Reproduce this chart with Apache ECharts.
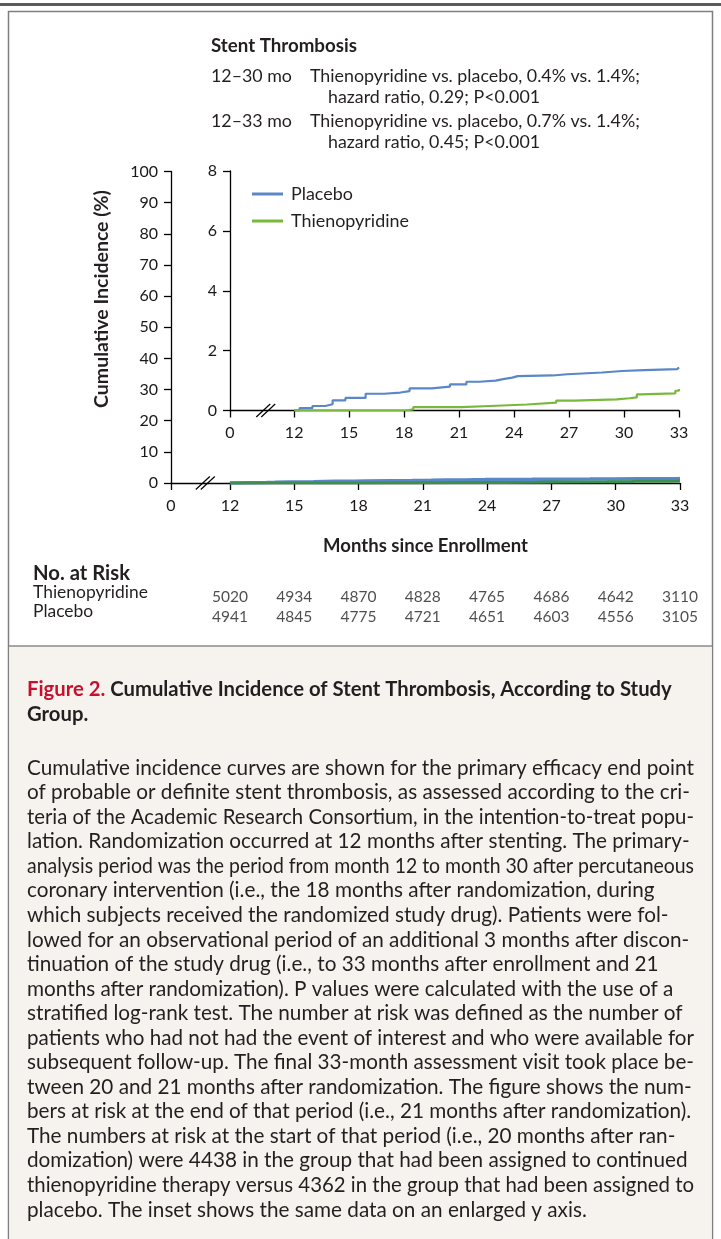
<!DOCTYPE html>
<html><head><meta charset="utf-8">
<script src="https://cdn.jsdelivr.net/npm/echarts@6/dist/echarts.min.js"></script>
<style>html,body{margin:0;padding:0;background:#fff}#c{width:721px;height:1239px}</style>
</head><body><div id="c"></div>
<script>
// ---- data ----
const placeboMonths = [12, 12.3, 13.0, 13.7, 14.1, 14.8, 15.9, 16.9, 17.8, 18.3, 19.5, 20.5, 21.4, 22.1, 23.0, 23.4, 23.9, 24.2, 26.1, 26.9, 28.8, 29.9, 31.1, 32.9, 33];
const placeboPct    = [0, 0.08, 0.15, 0.21, 0.34, 0.42, 0.56, 0.60, 0.65, 0.74, 0.80, 0.87, 0.96, 1.00, 1.05, 1.10, 1.15, 1.17, 1.21, 1.27, 1.32, 1.35, 1.38, 1.41, 1.44];
const thienoMonths  = [12, 18.1, 18.5, 21.1, 22.7, 24.7, 26.3, 27.3, 29.6, 30.3, 30.7, 30.9, 32.8, 33];
const thienoPct     = [0, 0.04, 0.11, 0.15, 0.20, 0.26, 0.33, 0.37, 0.41, 0.44, 0.54, 0.57, 0.66, 0.72];
const xTickLabels   = [0, 12, 15, 18, 21, 24, 27, 30, 33];
const riskMonths    = [12, 15, 18, 21, 24, 27, 30, 33];
const riskThieno    = [5020, 4934, 4870, 4828, 4765, 4686, 4642, 3110];
const riskPlacebo   = [4941, 4845, 4775, 4721, 4651, 4603, 4556, 3105];
const seriesNames   = ['Placebo', 'Thienopyridine'];
const headerLines = [
  ['12\u201330 mo', 'Thienopyridine vs. placebo, 0.4% vs. 1.4%;', 'hazard ratio, 0.29; P<0.001'],
  ['12\u201333 mo', 'Thienopyridine vs. placebo, 0.7% vs. 1.4%;', 'hazard ratio, 0.45; P<0.001']
];
const captionTitle = ['Figure 2.', ' Cumulative Incidence of Stent Thrombosis, According to Study', 'Group.'];
const captionBody = [
  'Cumulative incidence curves are shown for the primary efficacy end point',
  'of probable or definite stent thrombosis, as assessed according to the cri-',
  'teria of the Academic Research Consortium, in the intention-to-treat popu-',
  'lation. Randomization occurred at 12 months after stenting. The primary-',
  'analysis period was the period from month 12 to month 30 after percutaneous',
  'coronary intervention (i.e., the 18 months after randomization, during',
  'which subjects received the randomized study drug). Patients were fol-',
  'lowed for an observational period of an additional 3 months after discon-',
  'tinuation of the study drug (i.e., to 33 months after enrollment and 21',
  'months after randomization). P values were calculated with the use of a',
  'stratified log-rank test. The number at risk was defined as the number of',
  'patients who had not had the event of interest and who were available for',
  'subsequent follow-up. The final 33-month assessment visit took place be-',
  'tween 20 and 21 months after randomization. The figure shows the num-',
  'bers at risk at the end of that period (i.e., 21 months after randomization).',
  'The numbers at risk at the start of that period (i.e., 20 months after ran-',
  'domization) were 4438 in the group that had been assigned to continued',
  'thienopyridine therapy versus 4362 in the group that had been assigned to',
  'placebo. The inset shows the same data on an enlarged y axis.'
];

// ---- styling / layout ----
const FAM = 'Lato';
const FF = '"Lato", "Open Sans", sans-serif';
const INK = '#231f20';
const BLUE = '#5a87c7', GREEN = '#78b83c', GREEN_MAIN = '#3d8f4f', RED = '#c8102e';
const mainXMin = 9.25, insetXMin = 8.5;   // broken axis: left end stands for month 0
const mainBreakAt = 10.85, insetBreakAt = 10.45;

const mctx = document.createElement('canvas').getContext('2d');
function width(text, weight, size) {
  mctx.font = weight + ' ' + size + 'px "' + FAM + '"';
  return mctx.measureText(text).width;
}
function fit(text, weight, target) {
  return +(100 * target / width(text, weight, 100)).toFixed(2);
}
const sHeadBold = fit('Stent Thrombosis', 700, 146);
const sHead = fit(headerLines[0][1], 400, 330);
const sBody = (fit(captionBody[0], 400, 665) + fit(captionBody[14], 400, 666)) / 2;
const bodyMaxW = 667;
const sTitle = fit(captionTitle[0] + captionTitle[1], 700, 645);
const sYName = fit('Cumulative Incidence (%)', 700, 218);
const sXName = fit('Months since Enrollment', 700, 205);
const sRiskHead = fit('No. at Risk', 700, 97);
const sRiskLab = fit('Thienopyridine', 400, 115);
const sLegend = fit('Thienopyridine', 400, 118);
const sTick = 16;
const sRiskNum = fit('5020', 400, 36);

const pairs = (xs, ys) => xs.map((x, i) => [x, ys[i]]);

function txt(text, x, y, size, weight, extra) {
  return {type: 'text', z: 10, style: Object.assign({
    text, x, y, fontSize: size, fontFamily: FF, fontWeight: weight || 400,
    fill: INK, align: 'left', verticalAlign: 'middle'}, extra || {})};
}
function bodyLine(text, i) {
  const y = 768 + i * 24.55;
  const w = width(text, 400, sBody);
  const el = txt(text, 0, 0, sBody);
  el.x = 27; el.y = y;
  if (w > bodyMaxW) { el.scaleX = bodyMaxW / w; }
  return el;
}

function axisCommon(min, max, margin) {
  return {
    type: 'value', min, max,
    axisLine: {show: true, lineStyle: {color: '#000', width: 1.3}},
    axisTick: {show: true, length: 7, lineStyle: {color: '#000', width: 1.3}},
    axisLabel: {color: '#1a1718', fontSize: sTick, fontFamily: FF, margin: margin || 13},
    splitLine: {show: false}
  };
}
function xAxisBroken(grid, xmin, margin) {
  const vals = xTickLabels.map(v => v === 0 ? xmin : v);
  const a = axisCommon(xmin, 33, margin);
  a.gridIndex = grid;
  a.axisTick.customValues = vals;
  a.axisLabel.customValues = vals;
  a.axisLabel.formatter = v => (Math.abs(v - xmin) < 1e-6 ? '0' : String(Math.round(v)));
  return a;
}

const breakSeries = (xi, yi, at) => ({
  type: 'custom', xAxisIndex: xi, yAxisIndex: yi, silent: true, z: 5,
  data: [[at, 0]],
  renderItem: (params, api) => {
    const p = api.coord([api.value(0), 0]);
    const mk = dx => ({type: 'line', shape: {x1: p[0] + dx - 7, y1: p[1] + 6.5, x2: p[0] + dx + 7, y2: p[1] - 6.5},
      style: {stroke: '#000', lineWidth: 1.2}});
    return {type: 'group', children: [mk(-2.5), mk(2.5)]};
  }
});

const graphics = [
  {type: 'rect', z: -10, shape: {x: 0, y: 3, width: 721, height: 3}, style: {fill: '#5b5b5b'}},
  {type: 'rect', z: -10, shape: {x: 8.5, y: 11.5, width: 704, height: 1300}, style: {fill: '#fff', stroke: '#7f7f7f', lineWidth: 1.5}},
  {type: 'rect', z: -9, shape: {x: 9.3, y: 646, width: 702.4, height: 600}, style: {fill: '#f6f3ee'}},
  {type: 'line', z: -8, shape: {x1: 9, y1: 646, x2: 712, y2: 646}, style: {stroke: '#8a8a8a', lineWidth: 1.5}},
  txt('Stent Thrombosis', 211, 46, sHeadBold, 700),
  txt(headerLines[0][0], 211, 76, sHead), txt(headerLines[0][1], 310, 76, sHead), txt(headerLines[0][2], 328, 97, sHead),
  txt(headerLines[1][0], 211, 121, sHead), txt(headerLines[1][1], 310, 121, sHead), txt(headerLines[1][2], 328, 142, sHead),
  {type: 'text', z: 10, x: 102, y: 299, rotation: Math.PI / 2, style: {text: 'Cumulative Incidence (%)', x: 0, y: 0,
    fontSize: sYName, fontFamily: FF, fontWeight: 700, fill: INK, align: 'center', verticalAlign: 'middle'}},
  txt('No. at Risk', 33, 573, sRiskHead, 700),
  txt(seriesNames[1], 33, 592, sRiskLab), txt(seriesNames[0], 33, 611, sRiskLab),
  txt('{r|' + captionTitle[0] + '}' + captionTitle[1], 27, 689, sTitle, 700,
      {rich: {r: {fill: RED, fontSize: sTitle, fontFamily: FF, fontWeight: 700}}}),
  txt(captionTitle[2], 27, 714, sTitle, 700)
].concat(captionBody.map(bodyLine));

const option = {
  animation: false,
  backgroundColor: '#fff',
  textStyle: {fontFamily: FF},
  grid: [
    {left: 171, top: 171.5, width: 509, height: 311.5, outerBoundsMode: 'none', containLabel: false},
    {left: 230, top: 171, width: 449, height: 239.5, outerBoundsMode: 'none', containLabel: false},
    {left: 171, top: 597, width: 509, height: 20, outerBoundsMode: 'none', containLabel: false}
  ],
  xAxis: [
    Object.assign(xAxisBroken(0, mainXMin, 15), {name: 'Months since Enrollment', nameLocation: 'middle', nameGap: 54,
      nameTextStyle: {fontSize: sXName, fontWeight: 700, color: INK, fontFamily: FF}}),
    xAxisBroken(1, insetXMin, 14),
    {type: 'value', gridIndex: 2, min: mainXMin, max: 33, show: false}
  ],
  yAxis: [
    Object.assign(axisCommon(0, 100, 13), {gridIndex: 0, interval: 10}),
    Object.assign(axisCommon(0, 8, 13), {gridIndex: 1, interval: 2}),
    {type: 'value', gridIndex: 2, min: 0, max: 1, show: false}
  ],
  legend: {
    left: 247, top: 180, orient: 'vertical', itemWidth: 31, itemHeight: 3, itemGap: 9, icon: 'rect',
    data: seriesNames, selectedMode: false,
    textStyle: {fontSize: sLegend, color: INK, fontFamily: FF, lineHeight: 18, padding: [0, 0, 0, 3]}
  },
  series: [
    {name: seriesNames[0], type: 'line', xAxisIndex: 1, yAxisIndex: 1, step: 'end', showSymbol: false, symbol: 'none',
      color: BLUE, lineStyle: {color: BLUE, width: 2.2}, data: pairs(placeboMonths, placeboPct), z: 3},
    {name: seriesNames[1], type: 'line', xAxisIndex: 1, yAxisIndex: 1, step: 'end', showSymbol: false, symbol: 'none',
      color: GREEN, lineStyle: {color: GREEN, width: 2.2}, data: pairs(thienoMonths, thienoPct), z: 3},
    {name: seriesNames[0], type: 'line', xAxisIndex: 0, yAxisIndex: 0, step: 'end', showSymbol: false, symbol: 'none',
      color: BLUE, lineStyle: {color: BLUE, width: 3.5}, data: pairs(placeboMonths, placeboPct), z: 3},
    {name: seriesNames[1], type: 'line', xAxisIndex: 0, yAxisIndex: 0, step: 'end', showSymbol: false, symbol: 'none',
      color: GREEN_MAIN, lineStyle: {color: GREEN_MAIN, width: 3}, data: pairs(thienoMonths, thienoPct), z: 4},
    breakSeries(0, 0, mainBreakAt),
    breakSeries(1, 1, insetBreakAt),
    {type: 'scatter', xAxisIndex: 2, yAxisIndex: 2, silent: true, symbolSize: 1, itemStyle: {color: 'rgba(0,0,0,0)'},
      label: {show: true, position: 'inside', formatter: p => String(p.value[2]), color: INK, fontSize: sRiskNum, fontFamily: FF},
      data: riskMonths.map((m, i) => [m, 1, riskThieno[i]]).concat(riskMonths.map((m, i) => [m, 0, riskPlacebo[i]]))}
  ],
  graphic: {elements: graphics}
};
const chart = echarts.init(document.getElementById('c'), null, {renderer: 'canvas'});
chart.setOption(option);
</script></body></html>
